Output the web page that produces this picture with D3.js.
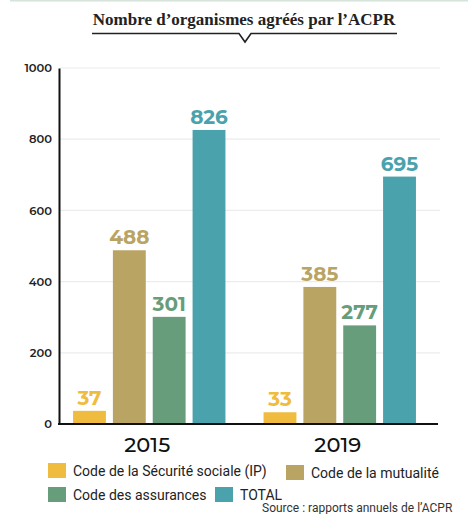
<!DOCTYPE html>
<html>
<head>
<meta charset="utf-8">
<title></title>
<script src="https://d3js.org/d3.v7.min.js"></script>
<style>
  html, body { margin: 0; padding: 0; background: white; }
</style>
</head>
<body>
<div id="chart"></div>
<script>
    // data
    const years = ["2015", "2019"];
    const seriesNames = ["Code de la Sécurité sociale (IP)", "Code de la mutualité", "Code des assurances", "TOTAL"];
    const values2015 = [37, 488, 301, 826];
    const values2019 = [33, 385, 277, 695];
    const yTicks = [0, 200, 400, 600, 800, 1000];
    const seriesColors = ["#efbc40", "#b9a463", "#689d7c", "#4aa2ad"];

    const dataset = [];
    years.forEach((yr, i) => {
        const vals = i === 0 ? values2015 : values2019;
        seriesNames.forEach((s, j) => dataset.push({ year: yr, series: s, value: vals[j] }));
    });

    const width = 468, height = 514;
    const sans = "Montserrat, 'Open Sans', Lato, sans-serif";

    const svg = d3.select("#chart").append("svg")
        .attr("width", width)
        .attr("height", height);

    svg.append("rect").attr("width", width).attr("height", height).attr("fill", "white");
    svg.append("rect").attr("x", 10).attr("y", 0).attr("width", width - 10).attr("height", 1.5)
        .attr("fill", "#d6e4db");

    // title with notched underline
    svg.append("text")
        .attr("x", 244).attr("y", 25)
        .attr("text-anchor", "middle")
        .style("font-family", "'Liberation Serif', 'DejaVu Serif', serif")
        .style("font-weight", "bold")
        .style("font-size", "17px")
        .attr("fill", "#222")
        .text("Nombre d\u2019organismes agréés par l\u2019ACPR");

    svg.append("path")
        .attr("d", "M92,33.5 H239 L245,42 L251,33.5 H397")
        .attr("fill", "none")
        .attr("stroke", "#222")
        .attr("stroke-width", 1.6);

    // scales
    const y = d3.scaleLinear().domain([0, 1000]).range([424, 68]);
    const x0 = d3.scaleBand().domain(years).range([54, 435]).paddingInner(0.2).paddingOuter(0.1);
    const x1 = d3.scaleBand().domain(seriesNames).range([0, x0.bandwidth()]).paddingInner(0.175);
    const color = d3.scaleOrdinal().domain(seriesNames).range(seriesColors);

    // grid
    svg.append("g")
        .selectAll("line")
        .data(yTicks.filter(d => d > 0))
        .enter().append("line")
        .attr("x1", 60).attr("x2", 440)
        .attr("y1", d => y(d)).attr("y2", d => y(d))
        .attr("stroke", "#ececec")
        .attr("stroke-width", 1.2);

    // y axis
    const yAxis = svg.append("g")
        .attr("transform", "translate(59,0)")
        .call(d3.axisLeft(y).tickValues(yTicks).tickSize(0).tickPadding(7).tickFormat(d3.format("d")));
    yAxis.select(".domain").attr("stroke", "#111").attr("stroke-width", 2);
    yAxis.selectAll(".tick text")
        .style("font-family", sans)
        .style("font-size", "11.5px")
        .style("font-weight", "600")
        .attr("fill", "#222");

    // bars
    svg.append("g")
        .selectAll("rect")
        .data(dataset)
        .enter().append("rect")
        .attr("x", d => x0(d.year) + x1(d.series))
        .attr("y", d => y(d.value))
        .attr("width", x1.bandwidth())
        .attr("height", d => y(0) - y(d.value))
        .attr("fill", d => color(d.series));

    // value labels
    svg.append("g")
        .selectAll("text")
        .data(dataset)
        .enter().append("text")
        .attr("x", d => x0(d.year) + x1(d.series) + x1.bandwidth() / 2)
        .attr("y", d => y(d.value) - 6)
        .attr("text-anchor", "middle")
        .style("font-family", sans)
        .style("font-size", "20px")
        .style("font-weight", "bold")
        .attr("fill", d => color(d.series))
        .text(d => d.value);

    // x axis
    svg.append("line")
        .attr("x1", 58).attr("x2", 438)
        .attr("y1", y(0)).attr("y2", y(0))
        .attr("stroke", "#111").attr("stroke-width", 2);

    svg.append("g")
        .selectAll("text")
        .data(years)
        .enter().append("text")
        .attr("x", d => x0(d) + x0.bandwidth() / 2 - 2)
        .attr("y", 452)
        .attr("text-anchor", "middle")
        .style("font-family", sans)
        .style("font-size", "21px")
        .style("font-weight", "500")
        .attr("fill", "#111")
        .text(d => d);

    // legend
    const legendPos = [
        { x: 48, y: 463 },
        { x: 286, y: 465 },
        { x: 48, y: 487 },
        { x: 215, y: 487 }
    ];
    const legend = svg.append("g")
        .selectAll("g")
        .data(seriesNames)
        .enter().append("g")
        .attr("transform", (d, i) => `translate(${legendPos[i].x},${legendPos[i].y})`);
    legend.append("rect")
        .attr("width", 18).attr("height", 15)
        .attr("fill", d => color(d));
    legend.append("text")
        .attr("x", 25).attr("y", 12.5)
        .style("font-family", "Roboto, 'Open Sans', sans-serif")
        .style("font-size", "14px")
        .attr("fill", "#222")
        .text(d => d);

    // source
    svg.append("text")
        .attr("x", 262).attr("y", 512)
        .style("font-family", "Roboto, 'Open Sans', sans-serif")
        .style("font-size", "12px")
        .attr("fill", "#333")
        .text("Source : rapports annuels de l\u2019ACPR");
</script>
</body>
</html>
